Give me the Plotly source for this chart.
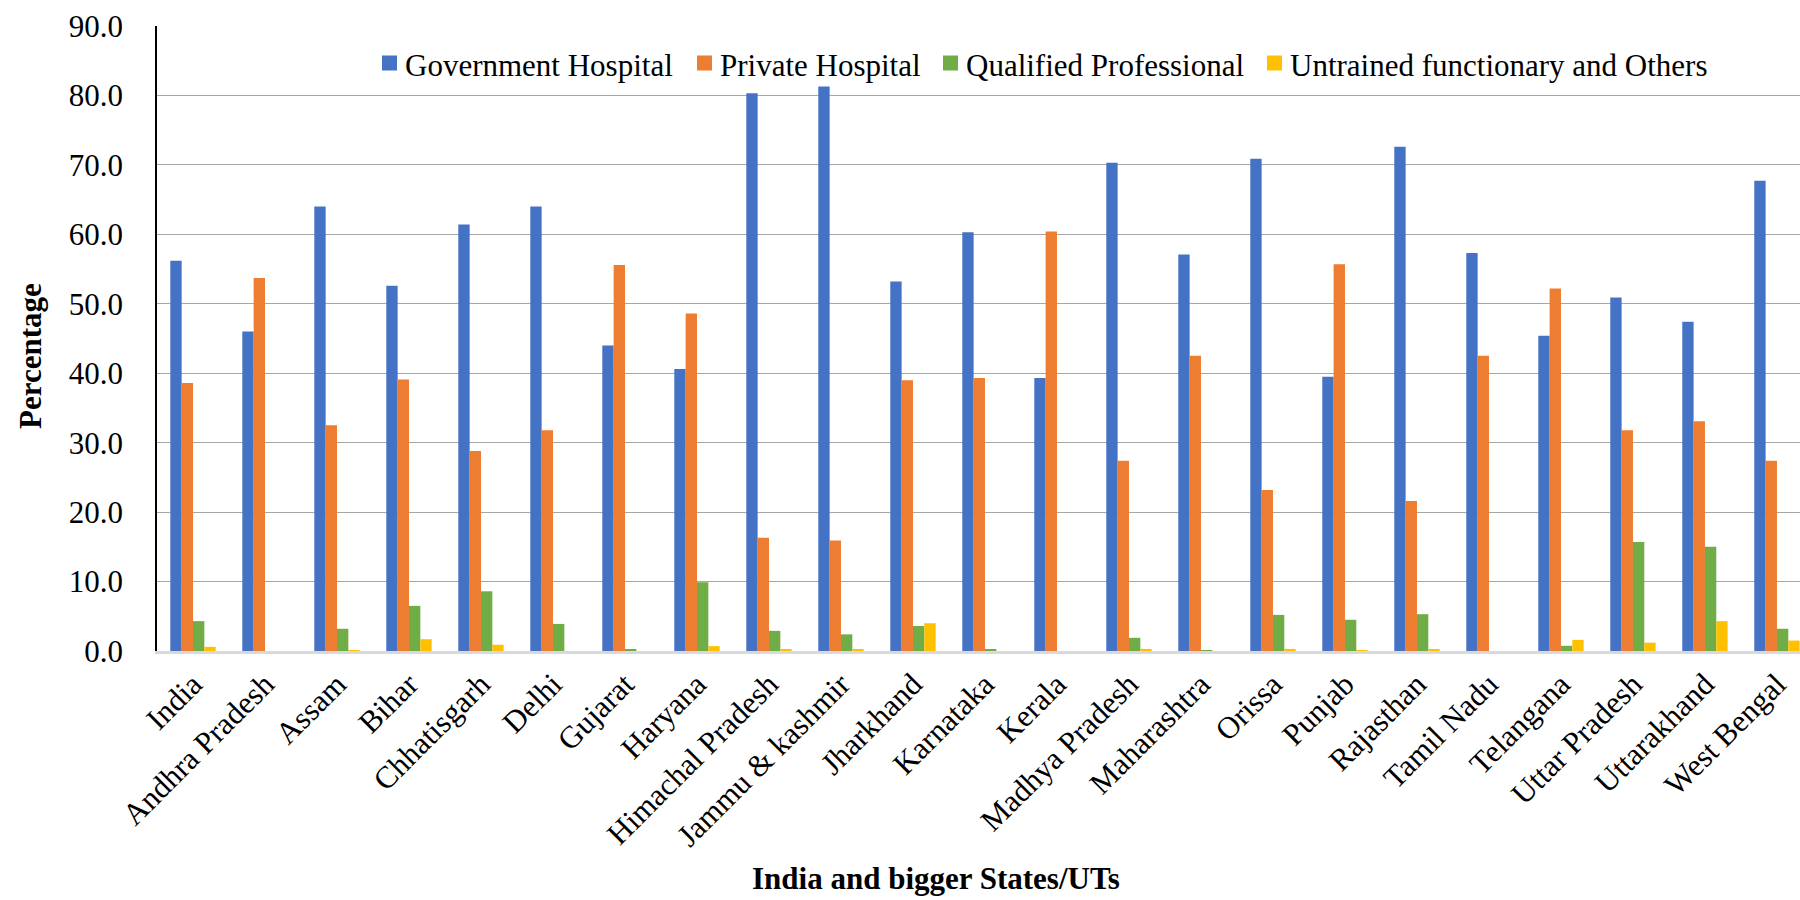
import plotly.graph_objects as go

# Place of delivery by state (percentage of deliveries)
states = [
    "India", "Andhra Pradesh", "Assam", "Bihar", "Chhatisgarh", "Delhi",
    "Gujarat", "Haryana", "Himachal Pradesh", "Jammu & kashmir", "Jharkhand",
    "Karnataka", "Kerala", "Madhya Pradesh", "Maharashtra", "Orissa", "Punjab",
    "Rajasthan", "Tamil Nadu", "Telangana", "Uttar Pradesh", "Uttarakhand",
    "West Bengal",
]

government_hospital = [
    56.2, 46.0, 64.0, 52.6, 61.4, 64.0, 44.0, 40.6, 80.3, 81.3, 53.2, 60.3,
    39.3, 70.3, 57.1, 70.9, 39.5, 72.6, 57.3, 45.4, 50.9, 47.4, 67.7,
]
private_hospital = [
    38.6, 53.7, 32.5, 39.1, 28.8, 31.8, 55.6, 48.6, 16.3, 15.9, 39.0, 39.3,
    60.4, 27.4, 42.5, 23.2, 55.7, 21.6, 42.5, 52.2, 31.8, 33.1, 27.4,
]
qualified_professional = [
    4.3, 0.0, 3.2, 6.5, 8.6, 3.9, 0.25, 9.9, 2.9, 2.4, 3.6, 0.2,
    0.0, 1.9, 0.1, 5.2, 4.5, 5.3, 0.0, 0.75, 15.7, 15.0, 3.2,
]
untrained_others = [
    0.6, 0.0, 0.1, 1.7, 0.9, 0.0, 0.0, 0.7, 0.2, 0.2, 4.0, 0.0,
    0.0, 0.3, 0.0, 0.3, 0.1, 0.25, 0.0, 1.6, 1.2, 4.3, 1.5,
]

series = [
    ("Government Hospital", government_hospital, "#4472C4"),
    ("Private Hospital", private_hospital, "#ED7D31"),
    ("Qualified Professional", qualified_professional, "#70AD47"),
    ("Untrained functionary and Others", untrained_others, "#FFC000"),
]

y_ticks = [0, 10, 20, 30, 40, 50, 60, 70, 80, 90]

FONT = "Liberation Serif"
serif_font = dict(family=FONT, size=31, color="black")

# Plot-area geometry in pixels (used to place the legend and titles)
W, H = 1800, 900
M_L, M_R, M_T, M_B = 157, 0, 26, 249
PLOT_W = W - M_L - M_R
PLOT_H = H - M_T - M_B


def px_to_paper_x(px):
    return (px - M_L) / PLOT_W


def px_to_paper_y(py):
    return (H - M_B - py) / PLOT_H


fig = go.Figure()
for name, values, color in series:
    fig.add_trace(go.Bar(
        name=name,
        x=list(range(len(states))),
        y=values,
        marker=dict(color=color, line=dict(width=0)),
        showlegend=False,
    ))

fig.update_layout(
    width=W,
    height=H,
    barmode="group",
    bargap=0.37,
    bargroupgap=0,
    plot_bgcolor="white",
    paper_bgcolor="white",
    margin=dict(l=M_L, r=M_R, t=M_T, b=M_B),
    font=serif_font,
    showlegend=False,
)

fig.update_xaxes(
    tickmode="array",
    tickvals=list(range(len(states))),
    ticktext=states,
    tickangle=-45,
    range=[-0.5, 22.32],
    showgrid=False,
    showline=True,
    linecolor="#D9D9D9",
    linewidth=2.5,
    ticks="",
    tickfont=serif_font,
    zeroline=False,
)

fig.update_yaxes(
    range=[0, 90],
    tickmode="array",
    tickvals=y_ticks,
    ticktext=[f"{v:.1f}" for v in y_ticks],
    showgrid=True,
    gridcolor="#A6A6A6",
    gridwidth=1.3,
    showline=True,
    linecolor="black",
    linewidth=1.5,
    ticks="",
    ticklabelstandoff=26,
    tickfont=serif_font,
    zeroline=False,
)

# Legend row across the top of the plot: colour square followed by label
legend_left_px = [382, 697, 943, 1267]
legend_mid_py = 63
square_px = 15
for (name, _, color), left in zip(series, legend_left_px):
    fig.add_shape(
        type="rect",
        xref="paper", yref="paper",
        x0=px_to_paper_x(left), x1=px_to_paper_x(left + square_px),
        y0=px_to_paper_y(legend_mid_py + square_px / 2),
        y1=px_to_paper_y(legend_mid_py - square_px / 2),
        fillcolor=color,
        line=dict(width=0),
    )
    fig.add_annotation(
        text=name,
        xref="paper", yref="paper",
        x=px_to_paper_x(left + square_px + 6),
        y=px_to_paper_y(legend_mid_py + 2),
        xanchor="left", yanchor="middle",
        showarrow=False,
        font=serif_font,
    )

fig.add_annotation(
    text="<b>Percentage</b>",
    xref="paper", yref="paper",
    x=px_to_paper_x(30), y=px_to_paper_y(356),
    xanchor="center", yanchor="middle",
    textangle=-90,
    showarrow=False,
    font=serif_font,
)

fig.add_annotation(
    text="<b>India and bigger States/UTs</b>",
    xref="paper", yref="paper",
    x=px_to_paper_x(936), y=px_to_paper_y(878),
    xanchor="center", yanchor="middle",
    showarrow=False,
    font=serif_font,
)

fig.write_html("out.html")
